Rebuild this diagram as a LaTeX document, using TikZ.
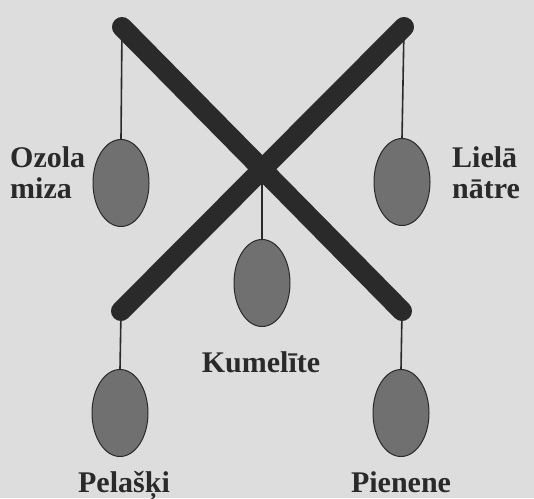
\documentclass[tikz,border=0pt]{standalone}
\usepackage{fontspec}
\setmainfont{Liberation Serif}
\usetikzlibrary{shapes.geometric}
\definecolor{paper}{RGB}{221,221,221}
\definecolor{rodgray}{RGB}{42,42,42}
\definecolor{beadgray}{RGB}{112,112,112}
\begin{document}
\begin{tikzpicture}[x=1pt,y=-1pt,
  bead/.style={ellipse,draw=rodgray,line width=1pt,fill=beadgray,minimum width=56pt,minimum height=87pt,inner sep=0pt},
  rod/.style={line width=20pt,line cap=round,rodgray},
  cord/.style={line width=1.6pt,rodgray},
  every node/.style={font=\bfseries\fontsize{30}{31}\selectfont,text=rodgray}]
  \fill[paper] (0,0) rectangle (534,498);
  \useasboundingbox (0,0) rectangle (534,498);
  % ends of the cross
  \coordinate (tl) at (122,27);
  \coordinate (tr) at (404,27);
  \coordinate (bl) at (121,311);
  \coordinate (br) at (402,311);
  \coordinate (mid) at (262,169);
  % hanging beads
  \node[bead] (ozola) at (121,183) {};
  \node[bead] (liela) at (402,182) {};
  \node[bead] (kumel) at (262,283) {};
  \node[bead] (pelas) at (120,413) {};
  \node[bead] (piene) at (401,413) {};
  \draw[cord] (tl) -- (ozola.north);
  \draw[cord] (tr) -- (liela.north);
  \draw[cord] (mid) -- (kumel.north);
  \draw[cord] (bl) -- (pelas.north);
  \draw[cord] (br) -- (piene.north);
  \draw[rod] (tl) -- (br);
  \draw[rod] (tr) -- (bl);
  % labels
  \node[anchor=base west,align=left,inner sep=0pt] (ozolalbl) at (10,198) {Ozola\\miza};
  \node[anchor=base west,align=left,inner sep=0pt] (lielalbl) at (452,198) {Lielā\\nātre};
  \node[anchor=base,inner sep=0pt] (kumellbl) at (261,372) {Kumelīte};
  \node[anchor=base,inner sep=0pt] (pelaslbl) at (124,492) {Pelašķi};
  \node[anchor=base,inner sep=0pt] (pienelbl) at (401,492) {Pienene};
\end{tikzpicture}
\end{document}
